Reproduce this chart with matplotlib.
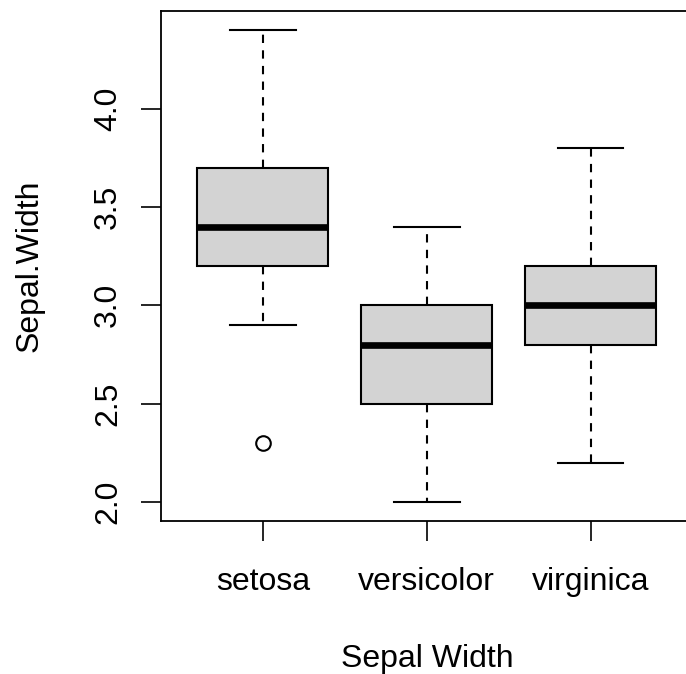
"""Boxplot of iris Sepal.Width by species, R base-graphics look."""

import matplotlib

matplotlib.use("Agg")

import matplotlib.pyplot as plt

species = ["setosa", "versicolor", "virginica"]
whisker_low = [2.9, 2.0, 2.2]
q1 = [3.2, 2.5, 2.8]
median = [3.4, 2.8, 3.0]
q3 = [3.7, 3.0, 3.2]
whisker_high = [4.4, 3.4, 3.8]
outliers = [[2.3], [], []]
y_ticks = [2.0, 2.5, 3.0, 3.5, 4.0]

plt.rcParams["font.family"] = ["Liberation Sans", "DejaVu Sans"]

stats = []
for i, name in enumerate(species):
    stats.append({
        "label": name,
        "whislo": whisker_low[i],
        "q1": q1[i],
        "med": median[i],
        "q3": q3[i],
        "whishi": whisker_high[i],
        "fliers": outliers[i],
    })

figure = plt.figure(figsize=(6.86, 6.74), dpi=100)
# the plot region runs a little past the right edge of the image, as in the original
axis = figure.add_axes([161 / 686, 1 - 521 / 674, 531 / 686, 510 / 674])

axis.bxp(
    stats,
    positions=[1, 2, 3],
    widths=0.8,
    patch_artist=True,
    boxprops=dict(facecolor="#d3d3d3", edgecolor="black", linewidth=1.5),
    medianprops=dict(color="black", linewidth=4.8, solid_capstyle="butt"),
    whiskerprops=dict(color="black", linewidth=1.5, linestyle=(0, (4, 3.5))),
    capprops=dict(color="black", linewidth=1.5),
    flierprops=dict(marker="o", markersize=10.5, markerfacecolor="none",
                    markeredgecolor="black", markeredgewidth=1.5),
    capwidths=0.4,
)

axis.set_xlim(0.378, 3.618)
axis.set_ylim(1.904, 4.496)
axis.set_yticks(y_ticks)
axis.set_yticklabels([f"{v:.1f}" for v in y_ticks], rotation=90, va="center")
axis.tick_params(axis="both", length=14.4, width=1.2, labelsize=23, pad=13)
axis.tick_params(axis="x", pad=19)

for spine in axis.spines.values():
    spine.set_linewidth(1.3)

figure.text(30 / 686, 1 - 266 / 674, "Sepal.Width", rotation=90,
            ha="center", va="center", fontsize=23)
figure.text(427 / 686, 1 - 659 / 674, "Sepal Width",
            ha="center", va="center", fontsize=23)

figure.savefig("out.png", dpi=100)
